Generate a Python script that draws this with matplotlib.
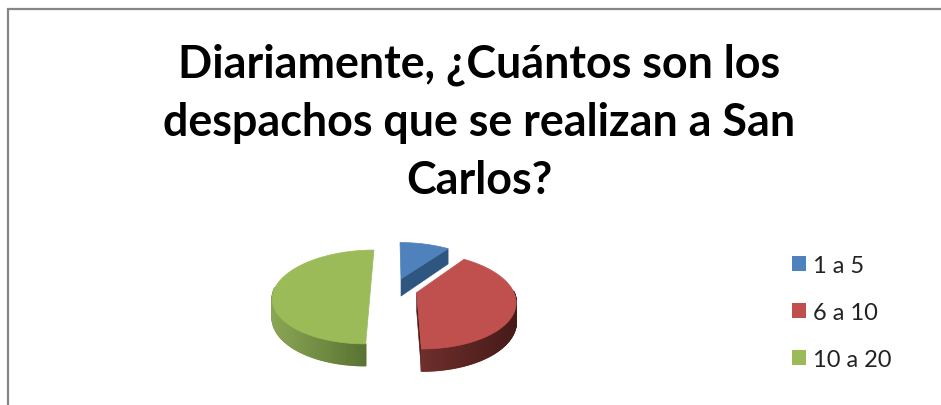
import numpy as np
import matplotlib
matplotlib.use("Agg")
import matplotlib.pyplot as plt
from matplotlib.collections import PolyCollection
from matplotlib.colors import to_rgb
from matplotlib.patches import Patch, Polygon

title_text = "Diariamente, ¿Cuántos son los\ndespachos que se realizan a San\nCarlos?"
categories = ["1 a 5", "6 a 10", "10 a 20"]
values = [10, 40, 50]

top_colors = ["#4f81bd", "#c0504d", "#9bbb59"]
wall_light = ["#2f5680", "#6e2e2c", "#8aa653"]
wall_dark = ["#2f5680", "#471a18", "#566f30"]
EXPLODE = 0.245

# Ground-plane perspective for the tilted disc
VX, VY, RX, RY, K, DEPTH = 394, 290, 96, 268, 0.17, 18


def project(u, v, drop=0.0):
    f = 1.0 / (1.0 + K * v)
    return np.column_stack([VX + RX * u * f, VY + RY * (f - 1.0) + drop * f])


fig = plt.figure(figsize=(9.41, 4.06), dpi=100)
ax = fig.add_axes([0, 0, 1, 1])
ax.set_xlim(0, 941)
ax.set_ylim(406, 0)
ax.axis("off")

fracs = np.array(values, dtype=float) / sum(values)
edges = np.concatenate([[0.0], np.cumsum(fracs)]) * 2 * np.pi

# Back slices first so the nearer ones overlap them
for i in [0, 2, 1]:
    a0, a1 = edges[i], edges[i + 1]
    mid = (a0 + a1) / 2
    cu, cv = EXPLODE * np.sin(mid), EXPLODE * np.cos(mid)
    t = np.linspace(a0, a1, 160)
    u, v = cu + np.sin(t), cv + np.cos(t)

    top = project(u, v)
    low = project(u, v, DEPTH)
    apex_top = project(np.array([cu]), np.array([cv]))
    apex_low = project(np.array([cu]), np.array([cv]), DEPTH)

    # Radial wall seen on the near side of the slice
    if i in (0, 1):
        ax.add_patch(Polygon([apex_top[0], top[-1], low[-1], apex_low[0]],
                             closed=True, fc=wall_dark[i], ec=wall_dark[i], lw=0.4))

    # Curved outer wall with a left-to-right shade ramp
    quads, shades = [], []
    c0, c1 = np.array(to_rgb(wall_light[i])), np.array(to_rgb(wall_dark[i]))
    xmin, xmax = top[:, 0].min(), top[:, 0].max()
    for j in range(len(t) - 1):
        if np.cos((t[j] + t[j + 1]) / 2) > 0.02:
            continue
        quads.append([top[j], top[j + 1], low[j + 1], low[j]])
        s = (top[j, 0] - xmin) / max(xmax - xmin, 1)
        shades.append(c0 + (c1 - c0) * s)
    if quads:
        ax.add_collection(PolyCollection(quads, facecolors=shades, edgecolors=shades,
                                         linewidths=1.2, joinstyle="round"))

    ax.add_patch(Polygon(np.vstack([apex_top, top]), closed=True,
                         fc=top_colors[i], ec=top_colors[i], lw=0.5))

fig.text(479.5 / 941, 1 - 122.5 / 406, title_text, ha="center", va="center",
         family="Lato", fontweight="bold", fontsize=32.3, color="#000000", linespacing=1.47)

handles = [Patch(fc=c, ec="none") for c in top_colors]
ax.legend(handles, categories, loc="upper left", bbox_to_anchor=(785 / 941, 1 - 249 / 406),
          frameon=False, prop={"family": "Lato", "size": 17}, labelcolor="#222222",
          handlelength=0.6, handleheight=0.6, handletextpad=0.27, labelspacing=1.1,
          borderpad=0.3, borderaxespad=0)

# Chart frame, open on the sides the crop cuts off
ax.plot([8, 8, 941], [406, 10, 10], color="#868686", lw=1.6, solid_joinstyle="miter")

fig.savefig("out.png", dpi=100)
